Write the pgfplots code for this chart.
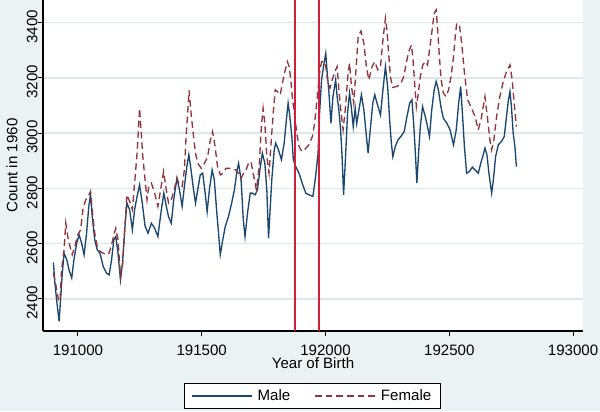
\documentclass[border=0pt]{standalone}
\usepackage{fontspec}
\setmainfont{Liberation Sans}
\usepackage{pgfplots}
\pgfplotsset{compat=1.18}
\definecolor{bgc}{RGB}{234,242,243}
\definecolor{gridc}{RGB}{222,232,235}
\definecolor{malec}{RGB}{26,71,111}
\definecolor{femc}{RGB}{144,53,59}
\definecolor{vlc}{RGB}{210,30,60}
\newcommand{\cf}{\fontsize{11.3pt}{13pt}\selectfont}
\begin{document}
\begin{tikzpicture}
\fill[bgc] (-32.25pt,-60pt) rectangle (417.75pt,248.25pt);
\begin{axis}[
  scale only axis, width=405pt, height=248.25pt,
  xmin=190859, xmax=193040, ymin=2284, ymax=3482,
  xtick={191000,191500,192000,192500,193000},
  ytick={2400,2600,2800,3000,3200,3400},
  scaled x ticks=false, scaled y ticks=false,
  /pgf/number format/fixed, /pgf/number format/precision=0,
  /pgf/number format/assume math mode=true,
  /pgf/number format/1000 sep={},
  axis x line=bottom, axis y line=left,
  axis line style={-, black, line width=0.9pt},
  tick style={black, line width=0.8pt}, tick align=outside, major tick length=4pt,
  ymajorgrids, grid style={color=gridc, line width=1.1pt},
  axis background/.style={fill=white},
  tick label style={font=\cf},
  yticklabel style={rotate=90, anchor=south, inner sep=0pt, xshift=-3pt},
  xticklabel style={inner sep=0pt, yshift=-6pt, anchor=north},
  xlabel={Year of Birth}, ylabel={Count in 1960},
  label style={font=\cf},
  xlabel style={at={(axis description cs:0.5,-0.097)}, anchor=center},
  ylabel style={at={(axis description cs:-0.0574,0.5)}, anchor=center, rotate=0},
  legend columns=2,
  legend style={at={(axis description cs:0.499,-0.196)}, anchor=center, draw=black, fill=white, line width=0.8pt, font=\cf, inner xsep=5pt, inner ysep=2.5pt, /tikz/every odd column/.append style={column sep=2pt}, /tikz/every even column/.append style={column sep=16pt}},
  legend image code/.code={\draw[#1] (0pt,0pt) -- (45pt,0pt);},
]
\addplot[malec, line width=1pt] coordinates {
(190901,2532) (190907,2458) (190914,2397) (190924,2319) (190930,2397) (190936,2481) (190944,2566) (190955,2542) (190964,2506) (190975,2476) (190984,2542) (190995,2602) (191005,2632) (191015,2602) (191025,2560) (191035,2638) (191044,2735) (191051,2777) (191058,2698) (191068,2614) (191078,2578) (191089,2566) (191102,2518) (191115,2494) (191126,2487) (191136,2542) (191145,2614) (191153,2626) (191162,2566) (191172,2469) (191180,2530) (191189,2650) (191198,2747) (191209,2723) (191220,2650) (191229,2723) (191239,2771) (191249,2813) (191260,2747) (191271,2665) (191283,2638) (191297,2674) (191310,2656) (191323,2626) (191337,2723) (191347,2783) (191357,2735) (191366,2698) (191377,2674) (191387,2759) (191400,2837) (191410,2795) (191421,2735) (191430,2807) (191440,2879) (191448,2922) (191457,2867) (191467,2795) (191475,2747) (191484,2795) (191494,2849) (191504,2855) (191514,2783) (191522,2716) (191531,2795) (191542,2867) (191551,2831) (191560,2723) (191568,2638) (191575,2560) (191585,2614) (191595,2662) (191608,2698) (191621,2747) (191632,2795) (191643,2867) (191649,2891) (191659,2831) (191668,2686) (191675,2626) (191685,2711) (191696,2783) (191704,2783) (191716,2777) (191725,2795) (191735,2867) (191745,2928) (191755,2891) (191763,2795) (191770,2620) (191783,2831) (191793,2940) (191799,2964) (191810,2940) (191822,2904) (191833,2964) (191842,3048) (191849,3109) (191856,3060) (191864,2988) (191870,2904) (191880,2879) (191893,2855) (191906,2819) (191920,2783) (191933,2777) (191949,2771) (191960,2843) (191970,2928) (191976,3072) (191984,3193) (191994,3253) (192001,3289) (192007,3217) (192014,3145) (192022,3036) (192030,3132) (192041,3193) (192047,3132) (192054,3084) (192061,3012) (192067,2915) (192073,2777) (192081,2915) (192089,3072) (192097,3145) (192104,3096) (192112,3024) (192120,3090) (192126,3035) (192135,3084) (192145,3139) (192155,3084) (192164,3000) (192172,2928) (192182,3024) (192191,3109) (192199,3139) (192208,3109) (192222,3066) (192232,3157) (192242,3241) (192251,3169) (192259,3048) (192266,2964) (192272,2915) (192282,2952) (192293,2976) (192306,2990) (192318,3006) (192329,3060) (192340,3109) (192349,3121) (192356,3036) (192363,2928) (192369,2819) (192376,2928) (192383,3024) (192392,3096) (192403,3060) (192412,3024) (192420,2988) (192429,3084) (192439,3157) (192447,3187) (192456,3157) (192466,3096) (192476,3054) (192490,3036) (192503,3012) (192517,2958) (192528,3012) (192538,3109) (192546,3169) (192553,3072) (192561,2952) (192570,2855) (192581,2861) (192593,2877) (192604,2867) (192617,2855) (192627,2891) (192637,2922) (192644,2946) (192652,2922) (192660,2855) (192671,2783) (192678,2831) (192687,2915) (192698,2958) (192711,2970) (192722,2988) (192731,3060) (192738,3115) (192745,3151) (192751,3096) (192758,3000) (192765,2952) (192771,2879)
};
\addlegendentry{Male}
\addplot[femc, line width=1pt, dash pattern=on 5pt off 3pt] coordinates {
(190901,2494) (190907,2469) (190917,2421) (190922,2391) (190928,2397) (190934,2506) (190944,2578) (190951,2674) (190959,2626) (190968,2590) (190977,2560) (190988,2590) (190999,2632) (191011,2650) (191021,2729) (191032,2759) (191041,2771) (191051,2789) (191059,2711) (191068,2638) (191078,2590) (191089,2572) (191102,2566) (191115,2560) (191126,2566) (191136,2596) (191145,2632) (191153,2656) (191162,2614) (191172,2481) (191180,2518) (191189,2650) (191198,2777) (191209,2753) (191220,2723) (191229,2819) (191239,2928) (191249,3090) (191262,2915) (191274,2807) (191279,2759) (191286,2807) (191297,2819) (191310,2783) (191323,2735) (191334,2795) (191346,2861) (191357,2795) (191366,2747) (191377,2759) (191387,2789) (191400,2837) (191410,2813) (191421,2807) (191430,2867) (191437,2988) (191444,3084) (191449,3155) (191457,3072) (191467,2988) (191475,2928) (191484,2891) (191498,2873) (191511,2891) (191524,2915) (191535,2976) (191544,3006) (191554,2952) (191564,2879) (191575,2849) (191587,2855) (191598,2873) (191611,2873) (191625,2870) (191638,2867) (191649,2855) (191659,2837) (191669,2855) (191679,2867) (191689,2891) (191699,2897) (191709,2849) (191721,2795) (191732,2879) (191741,3024) (191748,3090) (191755,3036) (191763,2915) (191772,2855) (191782,2988) (191790,3084) (191797,3157) (191806,3151) (191817,3139) (191826,3181) (191836,3223) (191846,3259) (191853,3241) (191860,3193) (191866,3132) (191876,3060) (191884,3000) (191893,2952) (191904,2934) (191917,2942) (191933,2958) (191947,2988) (191956,3036) (191967,3132) (191976,3217) (191984,3259) (191994,3259) (192001,3241) (192010,3181) (192018,3163) (192027,3193) (192038,3223) (192047,3241) (192054,3157) (192063,3072) (192071,3012) (192081,3096) (192090,3205) (192097,3253) (192105,3169) (192114,3109) (192124,3240) (192132,3350) (192143,3370) (192155,3326) (192165,3241) (192175,3193) (192188,3241) (192199,3259) (192211,3229) (192222,3241) (192232,3338) (192242,3416) (192248,3374) (192255,3289) (192262,3205) (192271,3166) (192289,3169) (192305,3181) (192316,3205) (192326,3253) (192336,3295) (192347,3319) (192353,3271) (192360,3181) (192367,3096) (192373,3132) (192383,3205) (192393,3247) (192403,3259) (192412,3247) (192420,3301) (192429,3362) (192439,3434) (192447,3446) (192452,3386) (192460,3277) (192467,3193) (192476,3145) (192487,3132) (192497,3157) (192507,3205) (192517,3277) (192524,3350) (192530,3398) (192541,3390) (192550,3326) (192561,3220) (192574,3121) (192590,3090) (192604,3060) (192617,3012) (192628,3048) (192644,3132) (192655,3048) (192664,2976) (192671,2940) (192680,2976) (192691,3060) (192704,3132) (192718,3187) (192731,3223) (192745,3247) (192754,3193) (192762,3109) (192771,3024)
};
\addlegendentry{Female}
\addplot[vlc, line width=1pt, forget plot] coordinates {(191877,2284) (191877,3482)};
\addplot[vlc, line width=1pt, forget plot] coordinates {(191974,2284) (191974,3482)};
\end{axis}
\pgfresetboundingbox
\useasboundingbox (-32.25pt,-60pt) rectangle (417.75pt,248.25pt);
\end{tikzpicture}
\end{document}
